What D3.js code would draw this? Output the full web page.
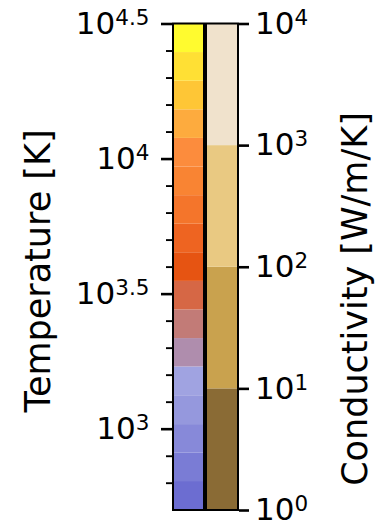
<!DOCTYPE html>
<html>
<head>
<meta charset="utf-8">
<script src="https://cdn.jsdelivr.net/npm/d3@7"></script>
<style>
  html, body { margin: 0; padding: 0; background: #fff; }
  svg { display: block; font-family: "DejaVu Sans", sans-serif; }
</style>
</head>
<body>
<svg id="chart" width="388" height="524"></svg>
<script>
// Temperature colour bands (K): 18 edges, 17 colours, bottom to top
const tempBounds = [500, 640, 815, 1040, 1330, 1700, 2165, 2765, 3525, 4500,
                    5740, 7320, 9345, 11925, 15215, 19425, 24790, 31623];
const tempColors = ["#6c6dd1", "#7a7cd5", "#8789d9", "#9598dd", "#a0a3e1",
                    "#af8dad", "#c27b77", "#d66745", "#e65412", "#ee6421",
                    "#f4752b", "#f98433", "#fc8c3d", "#fdab3e", "#fec636",
                    "#ffe034", "#fffb2f"];
const tempMajor = [1000, 3162.28, 10000, 31622.8];
const tempMajorExp = ["3", "3.5", "4", "4.5"];
const tempMinor = [631, 794, 1259, 1585, 1995, 2512, 3981, 5012, 6310, 7943,
                   12589, 15849, 19953, 25119];

// Conductivity colour bands (W/m/K)
const condBounds = [1, 10, 100, 1000, 10000];
const condColors = ["#8a6b35", "#c9a24e", "#e9c982", "#f0e2cc"];
const condMajor = [1, 10, 100, 1000, 10000];
const condMajorExp = ["0", "1", "2", "3", "4"];

const FONT = "'DejaVu Sans', sans-serif";
const svg = d3.select("#chart");
const barTop = 23.5, barBottom = 510;
const leftX0 = 173, leftX1 = 204;
const rightX0 = 206, rightX1 = 238;

const yT = d3.scaleLog().domain([tempBounds[0], tempBounds[tempBounds.length - 1]]).range([barBottom, barTop]);
const yC = d3.scaleLog().domain([condBounds[0], condBounds[condBounds.length - 1]]).range([barBottom, barTop]);

// colour bands
svg.append("g").selectAll("rect")
  .data(tempColors)
  .join("rect")
  .attr("x", leftX0).attr("width", leftX1 - leftX0)
  .attr("y", (d, i) => yT(tempBounds[i + 1]))
  .attr("height", (d, i) => yT(tempBounds[i]) - yT(tempBounds[i + 1]))
  .attr("fill", d => d);

svg.append("g").selectAll("rect")
  .data(condColors)
  .join("rect")
  .attr("x", rightX0).attr("width", rightX1 - rightX0)
  .attr("y", (d, i) => yC(condBounds[i + 1]))
  .attr("height", (d, i) => yC(condBounds[i]) - yC(condBounds[i + 1]))
  .attr("fill", d => d);

// outlines
svg.append("rect").attr("x", leftX0).attr("y", barTop).attr("width", leftX1 - leftX0).attr("height", barBottom - barTop)
  .attr("fill", "none").attr("stroke", "#000").attr("stroke-width", 2);
svg.append("rect").attr("x", rightX0).attr("y", barTop).attr("width", rightX1 - rightX0).attr("height", barBottom - barTop)
  .attr("fill", "none").attr("stroke", "#000").attr("stroke-width", 2);

// "10" with a raised exponent
function powerLabels(g, exps, anchor) {
  g.attr("font-family", FONT);
  g.selectAll(".tick text").each(function(d, i) {
    const t = d3.select(this);
    t.text(null).attr("dy", "0.31em").attr("font-size", 31).attr("fill", "#000")
      .attr("text-anchor", anchor);
    t.append("tspan").text("10");
    t.append("tspan").attr("font-size", 21.5).attr("dy", -9).text(exps[i]);
  });
}

// left axis: temperature
const gTmin = svg.append("g").attr("transform", `translate(${leftX0 - 1},0)`)
  .call(d3.axisLeft(yT).tickValues(tempMinor).tickSize(6).tickFormat(""));
gTmin.select(".domain").remove();
gTmin.selectAll(".tick line").attr("stroke", "#000").attr("stroke-width", 1.9);

const gT = svg.append("g").attr("transform", `translate(${leftX0 - 1},0)`)
  .call(d3.axisLeft(yT).tickValues(tempMajor).tickSize(11).tickPadding(11.5));
gT.select(".domain").remove();
gT.selectAll(".tick line").attr("stroke", "#000").attr("stroke-width", 2.6);
powerLabels(gT, tempMajorExp, "end");

// right axis: conductivity
const gC = svg.append("g").attr("transform", `translate(${rightX1 + 1},0)`)
  .call(d3.axisRight(yC).tickValues(condMajor).tickSize(10).tickPadding(6));
gC.select(".domain").remove();
gC.selectAll(".tick line").attr("stroke", "#000").attr("stroke-width", 2.6);
powerLabels(gC, condMajorExp, "start");

// axis titles
svg.append("text")
  .attr("transform", "translate(50,271) rotate(-90)")
  .attr("font-family", FONT)
  .attr("text-anchor", "middle").attr("font-size", 35).attr("fill", "#000")
  .text("Temperature [K]");
svg.append("text")
  .attr("transform", "translate(367,299) rotate(-90)")
  .attr("font-family", FONT)
  .attr("text-anchor", "middle").attr("font-size", 35).attr("fill", "#000")
  .text("Conductivity [W/m/K]");
</script>
</body>
</html>
